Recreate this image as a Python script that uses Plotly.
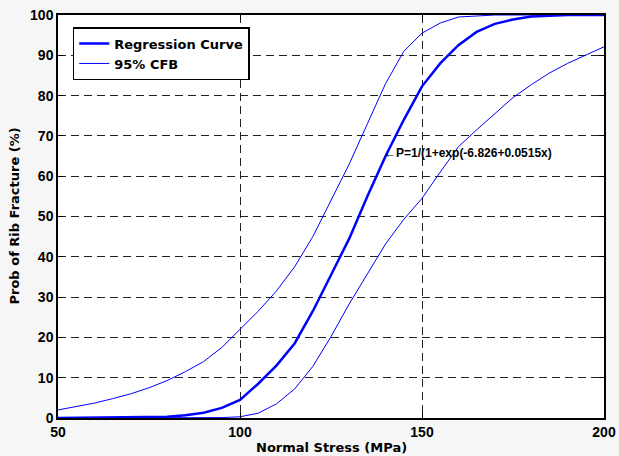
import plotly.graph_objects as go

# Regression curve
reg_x = [50, 60, 70, 80, 85, 90, 95, 100, 105, 110, 115, 120, 125, 130, 135, 140, 145, 150, 155, 160, 165, 170, 175, 180, 190, 200]
reg_y = [0, 0.05, 0.1, 0.3, 0.7, 1.3, 2.5, 4.5, 8.5, 13, 18.5, 26.5, 35.5, 44.5, 55, 65, 74, 82.3, 88, 92.5, 95.8, 97.8, 98.9, 99.6, 100, 100]

# Upper 95% confidence bound
up_x = [50, 55, 60, 65, 70, 75, 80, 85, 90, 95, 100, 105, 110, 115, 120, 125, 130, 135, 140, 145, 150, 155, 160, 170, 200]
up_y = [2, 2.8, 3.7, 4.8, 6, 7.5, 9.3, 11.5, 14, 17.5, 22, 26.5, 31.5, 37.5, 45, 54, 63, 73, 83, 91, 95.5, 98, 99.5, 100, 100]

# Lower 95% confidence bound
lo_x = [50, 80, 90, 95, 100, 105, 110, 115, 120, 125, 130, 135, 140, 145, 150, 155, 160, 165, 170, 175, 180, 185, 190, 195, 200]
lo_y = [0, 0, 0.05, 0.1, 0.3, 1.2, 3.5, 7.2, 12.8, 20.2, 28.3, 35.8, 43.2, 49.3, 54.5, 61, 67.3, 71.5, 75.5, 79.5, 82.7, 85.6, 88, 90.1, 92.1]

x_ticks = [50, 100, 150, 200]
y_ticks = [0, 10, 20, 30, 40, 50, 60, 70, 80, 90, 100]

x_title = "Normal Stress (MPa)"
y_title = "Prob of Rib Fracture (%)"
eq_text = "\u2190P=1/(1+exp(-6.826+0.0515x)"
eq_x, eq_y = 139.8, 65.8

BLUE = "#0000ff"
TICKF = dict(size=14, color="black", family="Liberation Sans, Arial", weight="bold")
TITLEF = dict(size=13, color="black", family="DejaVu Sans", weight="bold")

fig = go.Figure()
fig.add_trace(go.Scatter(x=reg_x, y=reg_y, mode="lines", name="Regression Curve",
                         line=dict(color=BLUE, width=2.5)))
fig.add_trace(go.Scatter(x=up_x, y=up_y, mode="lines", name="95% CFB",
                         line=dict(color=BLUE, width=1)))
fig.add_trace(go.Scatter(x=lo_x, y=lo_y, mode="lines", name="95% CFB", showlegend=False,
                         line=dict(color=BLUE, width=1)))

fig.add_annotation(x=eq_x, y=eq_y, text=eq_text, showarrow=False, xanchor="left", yanchor="middle",
                   xshift=-3,
                   font=dict(size=12, color="black", family="Liberation Sans, Arial", weight="bold"))

# axis titles
fig.add_annotation(x=0.5, y=0, xref="paper", yref="paper", text=x_title, showarrow=False,
                   xanchor="center", yanchor="middle", yshift=-29, font=TITLEF)
fig.add_annotation(x=0, y=0.5, xref="paper", yref="paper", text=y_title, showarrow=False,
                   textangle=-90, xanchor="center", yanchor="middle", xshift=-44, font=TITLEF)

axis_common = dict(showline=True, linecolor="black", linewidth=1.5, mirror="ticks",
                   ticks="inside", ticklen=5, tickcolor="black",
                   showgrid=True, gridcolor="#222222", griddash="8px,5px", gridwidth=1,
                   zeroline=False, automargin=False, tickfont=TICKF)

fig.update_layout(
    width=619, height=456,
    margin=dict(l=58, r=15, t=15, b=38),
    paper_bgcolor="#f6f6f6", plot_bgcolor="white",
    font=dict(family="Liberation Sans, Arial", color="black", weight="bold"),
    xaxis=dict(range=[50, 200], tickvals=x_ticks, **axis_common),
    yaxis=dict(range=[0, 100], tickvals=y_ticks, **axis_common),
    legend=dict(x=0.027, y=0.97, xanchor="left", yanchor="top",
                bgcolor="white", bordercolor="black", borderwidth=1.5,
                font=dict(size=13, color="black", family="DejaVu Sans", weight="bold"),
                tracegroupgap=0, itemwidth=30),
    showlegend=True,
)

fig.write_html("out.html", config={"displayModeBar": False},
               post_script="document.body.style.margin='0';document.body.style.padding='0';")
